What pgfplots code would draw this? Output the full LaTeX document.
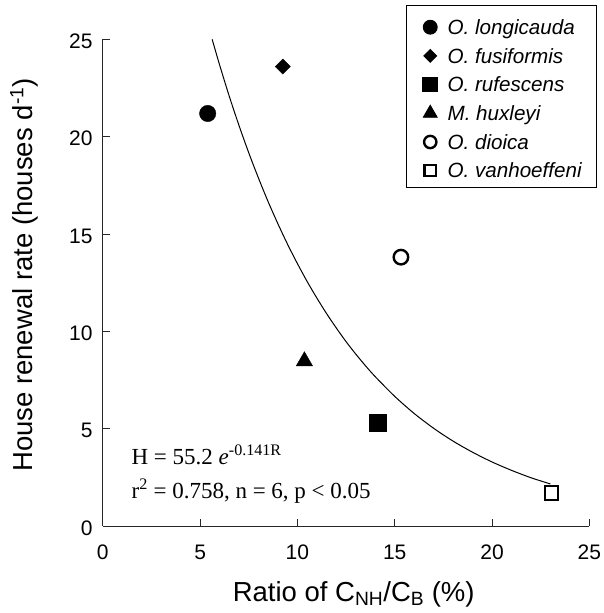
\documentclass[border=0pt]{standalone}
\usepackage{fontspec}
\setmainfont{Liberation Sans}
\newfontfamily\timesfont{Liberation Serif}
\usepackage{pgfplots}
\pgfplotsset{compat=1.18}

\begin{document}
\begin{tikzpicture}
\begin{axis}[
  at={(102.8pt,87pt)}, anchor=south west,
  scale only axis, width=486.5pt, height=486.7pt,
  xmin=0, xmax=25, ymin=0, ymax=25,
  axis lines=left, axis line style={-, line width=0.9pt, black!85},
  xtick={0,5,...,25}, ytick={0,5,...,25},
  tick align=inside,
  major tick length=7pt,
  tick style={line width=0.9pt, black!85},
  /pgf/number format/assume math mode=true,
  tick label style={font=\fontsize{21}{25}\selectfont},
  xticklabel style={inner sep=0pt, anchor=north, yshift=-18.5pt},
  yticklabel style={inner sep=0pt, anchor=east, xshift=-10.1pt, yshift=-2pt},
  every axis x label/.style={at={(axis description cs:0.5157,-0.1541)}, anchor=base},
  every axis y label/.style={at={(axis description cs:-0.1618,0.5157)}, anchor=center, rotate=90},
  label style={font=\fontsize{27.5}{32}\selectfont},
  xlabel={Ratio of C\textsubscript{NH}/C\textsubscript{B} (\%)},
  ylabel={House renewal rate (houses d\textsuperscript{-1})},
  legend style={at={(1.0154,1.0705)}, anchor=north east, draw=black, line width=0.9pt,
    font=\fontsize{20.6}{24}\selectfont\itshape,
    inner xsep=14.7pt, inner ysep=7pt, row sep=4.2pt, column sep=8.2pt,
    nodes={inner sep=0pt, text height=22pt, text depth=2.5pt}},
  legend cell align=left,
  every axis plot post/.append style={legend image code/.code={
    \path (0pt,0pt) (16pt,0pt);
    \draw[mark repeat=2, mark phase=2, ##1, every mark/.append style={scale=0.85}]
      plot coordinates {(0pt,-2.5pt) (8pt,-2.5pt) (16pt,-2.5pt)};}},
]
\addplot[no marks, smooth, line width=1pt, black, forget plot] coordinates {
  (5.62,25.0) (6,23.69) (6.5,22.07) (7,20.57) (7.5,19.17) (8,17.87) (8.5,16.65)
  (9,15.52) (9.5,14.46) (10,13.48) (10.5,12.56) (11,11.71) (11.5,10.91) (12,10.17)
  (12.5,9.47) (13,8.83) (13.5,8.23) (14,7.67) (15,6.66) (16,5.78) (17,5.02)
  (18,4.36) (19,3.79) (20,3.29) (21,2.86) (22,2.48) (23,2.16)};
\addplot[only marks, black, mark=*, mark size=8.2pt] coordinates {(5.39,21.19)};
\addlegendentry{O. longicauda}
\addplot[only marks, black, mark=square*, mark size=5.3pt, mark options={rotate=45}] coordinates {(9.25,23.6)};
\addlegendentry{O. fusiformis}
\addplot[only marks, black, mark=square*, mark size=8.6pt] coordinates {(14.14,5.30)};
\addlegendentry{O. rufescens}
\addplot[only marks, black, mark=triangle*, mark size=9.4pt] coordinates {(10.36,8.47)};
\addlegendentry{M. huxleyi}
\addplot[only marks, black, mark=o, mark size=7.25pt, line width=2.4pt] coordinates {(15.32,13.81)};
\addlegendentry{O. dioica}
\addplot[only marks, black, mark=square, mark size=6.7pt, line width=2.2pt] coordinates {(23.05,1.69)};
\addlegendentry{O. vanhoeffeni}
\node[anchor=base west, inner sep=0pt, font=\timesfont\fontsize{23}{27}\selectfont]
  at (axis cs:1.47,3.18) {H = 55.2 \textit{e}\textsuperscript{-0.141R}};
\node[anchor=base west, inner sep=0pt, font=\timesfont\fontsize{23}{27}\selectfont]
  at (axis cs:1.47,1.41) {r\textsuperscript{2} = 0.758, n = 6, p < 0.05};
\end{axis}
\pgfresetboundingbox
\useasboundingbox (0,0) rectangle (603pt,613pt);
\end{tikzpicture}
\end{document}
